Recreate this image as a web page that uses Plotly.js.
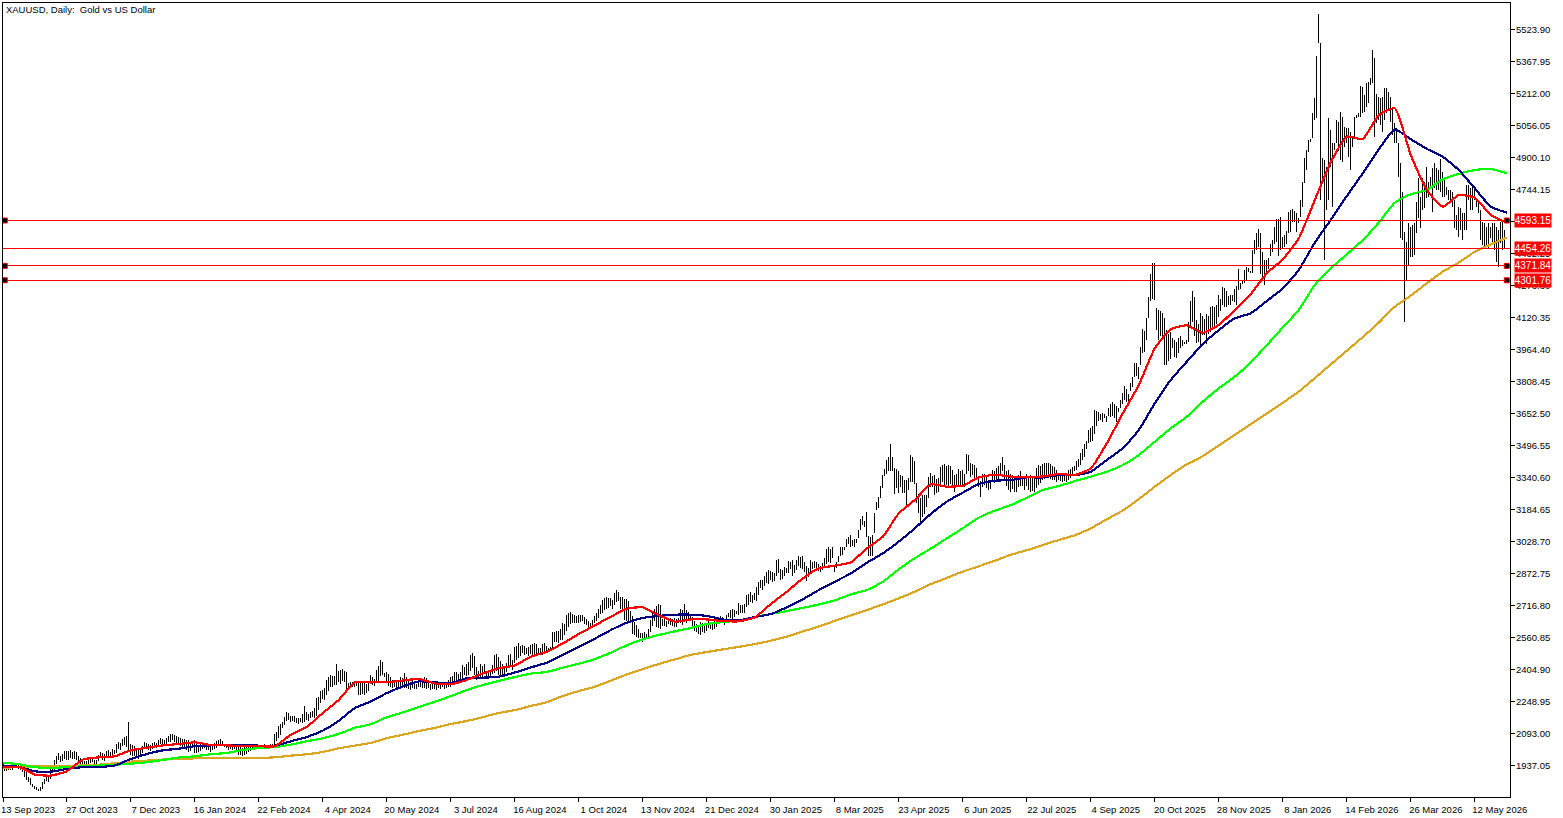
<!DOCTYPE html>
<html>
<head>
<meta charset="utf-8">
<script src="https://cdn.plot.ly/plotly-3.0.1.min.js"></script>
<style>
    html, body { margin: 0; padding: 0; background: #ffffff; overflow: hidden; }
    .scatterlayer .js-line, .barlayer path { shape-rendering: crispEdges; }
</style>
</head>
<body>
<div id="chart" style="width:1563px;height:818px;"></div>
<script>
// daily highs, 32 bars per axis label
const barHigh = [
    1933,1931,1930,1936,1930,1928,1938,1944,1947,1936,1926,1925,1904,1880,1875,1847,1835,1830,1825,1830,1858,1872,1885,1880,1926,1932,1965,1985,1997,1984,1992,2006,
    2006,2009,2013,2004,2008,2003,1985,1975,1962,1960,1958,1962,1972,1980,1962,1966,1990,2002,1996,1992,2008,2012,2004,2018,2014,2040,2050,2048,2068,2078,2080,2148,
    2042,2035,2030,2022,2012,2020,2034,2050,2048,2040,2036,2045,2052,2048,2062,2072,2066,2062,2070,2082,2089,2092,2086,2080,2076,2073,2068,2065,2060,2060,2048,2058,
    2063,2048,2039,2050,2047,2045,2040,2044,2036,2037,2049,2055,2063,2068,2055,2039,2041,2039,2036,2036,2044,2040,2030,2025,2020,2028,2032,2025,2030,2036,2039,2033,
    2039,2036,2038,2040,2038,2037,2040,2042,2091,2100,2128,2140,2150,2175,2196,2192,2180,2176,2178,2170,2170,2170,2190,2228,2200,2190,2196,2205,2215,2265,2270,2298,
    2305,2313,2355,2370,2380,2371,2375,2432,2400,2403,2407,2400,2395,2340,2345,2344,2345,2346,2338,2340,2342,2338,2335,2340,2380,2370,2360,2403,2420,2452,2440,2390,
    2392,2385,2370,2355,2350,2354,2345,2370,2362,2386,2370,2350,2345,2354,2340,2335,2345,2352,2340,2370,2365,2340,2332,2338,2335,2340,2330,2335,2338,2330,2345,2352,
    2367,2375,2394,2392,2385,2395,2427,2418,2432,2443,2478,2484,2470,2415,2400,2432,2420,2430,2395,2395,2400,2425,2475,2479,2465,2445,2430,2420,2437,2475,2479,2450,
    2516,2520,2532,2520,2525,2518,2512,2516,2522,2528,2532,2530,2510,2512,2528,2532,2518,2512,2516,2590,2589,2592,2595,2600,2630,2628,2670,2680,2687,2675,2670,2665,
    2670,2672,2670,2660,2650,2640,2630,2645,2665,2680,2700,2720,2745,2755,2760,2755,2752,2745,2780,2792,2785,2760,2758,2750,2750,2740,2690,2665,2636,2620,2600,2585,
    2585,2590,2580,2600,2645,2680,2700,2715,2724,2720,2650,2660,2640,2650,2655,2650,2655,2650,2655,2700,2695,2724,2695,2685,2670,2660,2640,2625,2620,2635,2630,2620,
    2625,2640,2635,2625,2640,2650,2660,2664,2662,2646,2670,2680,2695,2700,2695,2690,2727,2720,2720,2722,2768,2775,2785,2768,2780,2809,2830,2841,2841,2860,2882,2890,
    2885,2880,2875,2940,2942,2895,2890,2905,2900,2935,2930,2940,2912,2938,2958,2952,2960,2930,2910,2900,2940,2930,2932,2930,2920,2910,2925,2950,2990,3000,2990,3003,
    2914,2930,2960,3003,3000,3003,3040,3052,3060,3035,3040,3040,3085,3140,3155,3130,3174,3055,3050,3060,3170,3220,3247,3300,3353,3380,3426,3440,3504,3440,3385,3380,
    3373,3354,3350,3330,3329,3340,3450,3439,3420,3312,3260,3240,3255,3255,3255,3345,3364,3350,3352,3335,3340,3390,3400,3406,3395,3400,3395,3378,3352,3360,3380,3370,
    3375,3360,3455,3450,3410,3405,3400,3385,3350,3325,3360,3360,3345,3330,3327,3375,3372,3385,3395,3410,3442,3400,3370,3375,3360,3355,3345,3350,3355,3370,3340,3350,
    3360,3345,3355,3345,3340,3385,3400,3395,3405,3410,3412,3410,3405,3395,3390,3375,3361,3360,3358,3360,3361,3375,3380,3392,3398,3420,3430,3458,3480,3505,3520,3572,
    3580,3590,3670,3665,3660,3650,3655,3650,3640,3680,3700,3707,3700,3690,3680,3720,3751,3788,3770,3750,3800,3832,3897,3900,3880,3978,4063,4055,4116,4222,4330,4384,
    4384,4165,4155,4150,4140,4120,4060,4040,4050,4020,4010,4000,4020,4030,4010,4000,3990,4100,4200,4251,4220,4110,4090,4140,4130,4115,4135,4130,4170,4175,4170,4180,
    4230,4210,4270,4262,4250,4225,4230,4228,4260,4275,4355,4290,4300,4350,4368,4360,4345,4450,4500,4530,4550,4530,4440,4400,4400,4410,4480,4500,4560,4600,4600,4610,
    4514,4520,4540,4636,4644,4650,4640,4628,4604,4693,4782,4896,4937,4985,4989,5115,5188,5395,5599,5457,4896,4888,4855,5091,5034,4969,4969,5083,5075,5123,5099,5050,
    5042,5042,5026,4993,5099,5107,5115,5248,5242,5205,5262,5270,5286,5424,5383,5208,5197,5188,5197,5237,5237,5221,5197,5140,5066,5042,4969,4872,4734,4538,4490,4579,
    4563,4571,4579,4685,4799,4709,4799,4782,4855,4782,4807,4847,4872,4847,4839,4891,4831,4807,4758,4742,4742,4734,4693,4620,4660,4652,4628,4628,4766,4766,4750,4758,
    4758,4693,4677,4644,4587,4579,4563,4579,4563,4579,4579,4563,4547,4587,4587,4547
];
// daily lows
const barLow = [
    1906,1908,1912,1914,1913,1915,1925,1926,1920,1915,1905,1880,1866,1858,1840,1830,1823,1816,1812,1815,1825,1845,1860,1855,1870,1905,1908,1945,1962,1955,1960,1970,
    1965,1966,1972,1968,1970,1962,1945,1940,1936,1934,1932,1938,1950,1955,1938,1940,1960,1975,1965,1960,1975,1985,1980,1990,1992,1998,2018,2015,2030,2035,2025,2014,
    1990,1985,1982,1975,1969,1985,1998,2016,2018,2012,2010,2016,2028,2024,2026,2040,2030,2036,2044,2050,2052,2060,2054,2046,2040,2034,2028,2020,2015,2004,2008,2024,
    2000,1998,2005,2010,2016,2022,2015,2012,2005,2012,2018,2022,2030,2032,2030,2025,2022,2015,2016,2014,2016,2012,1990,1990,1985,1990,1995,2005,2008,2012,2014,2016,
    2022,2025,2028,2030,2028,2030,2033,2030,2030,2055,2070,2085,2120,2135,2155,2160,2150,2155,2150,2145,2140,2148,2145,2150,2160,2155,2170,2175,2170,2180,2210,2240,
    2260,2255,2282,2300,2318,2322,2328,2330,2345,2335,2350,2345,2310,2306,2315,2320,2322,2325,2282,2280,2285,2282,2290,2300,2335,2330,2325,2350,2350,2375,2380,2370,
    2345,2325,2318,2315,2320,2313,2308,2318,2325,2313,2315,2310,2305,2315,2308,2312,2320,2318,2315,2313,2310,2315,2303,2308,2312,2305,2315,2310,2318,2308,2316,2322,
    2322,2330,2330,2335,2340,2360,2365,2378,2375,2380,2400,2410,2380,2354,2360,2362,2360,2385,2360,2358,2362,2385,2390,2400,2380,2378,2380,2376,2395,2415,2420,2403,
    2435,2450,2460,2470,2485,2475,2480,2470,2480,2475,2480,2470,2475,2480,2475,2492,2490,2495,2505,2510,2540,2540,2535,2550,2550,2575,2595,2610,2625,2630,2630,2633,
    2630,2635,2640,2625,2620,2610,2605,2620,2630,2640,2655,2675,2680,2695,2700,2705,2712,2700,2720,2735,2740,2700,2695,2645,2640,2630,2630,2580,2575,2565,2560,2557,
    2541,2548,2560,2565,2590,2615,2640,2610,2605,2600,2615,2615,2610,2625,2620,2615,2612,2612,2630,2630,2620,2640,2630,2640,2640,2600,2594,2590,2580,2575,2590,2585,
    2595,2605,2600,2596,2600,2610,2630,2640,2630,2620,2640,2660,2655,2650,2660,2675,2670,2680,2682,2680,2710,2720,2735,2730,2742,2740,2768,2800,2790,2810,2825,2820,
    2840,2830,2835,2860,2875,2840,2845,2860,2876,2875,2895,2860,2875,2890,2910,2900,2895,2880,2835,2855,2880,2895,2900,2890,2885,2880,2890,2905,2920,2930,2925,2950,
    2880,2900,2930,2958,2965,2985,3000,3015,3000,3005,3000,3020,3045,3085,3110,3100,3052,2958,2960,2958,3070,3180,3190,3240,3290,3350,3360,3370,3370,3370,3262,3290,
    3263,3296,3265,3265,3206,3280,3320,3320,3310,3215,3166,3125,3150,3165,3195,3240,3295,3295,3255,3264,3272,3300,3320,3296,3305,3290,3310,3303,3270,3300,3295,3305,
    3300,3295,3360,3370,3345,3352,3340,3335,3295,3247,3295,3303,3290,3280,3283,3320,3315,3335,3320,3350,3370,3330,3300,3280,3272,3285,3270,3271,3292,3300,3300,3280,
    3300,3280,3271,3275,3271,3290,3304,3315,3328,3335,3345,3340,3335,3330,3328,3320,3328,3322,3320,3325,3320,3330,3340,3352,3370,3375,3390,3400,3425,3440,3480,3510,
    3515,3520,3555,3590,3615,3620,3612,3630,3610,3640,3637,3640,3630,3610,3660,3680,3700,3720,3710,3710,3760,3780,3830,3835,3820,3890,3945,3950,4010,4120,4200,4210,
    4205,4060,4010,4030,4010,3890,3890,3910,3920,3970,3930,3925,3945,3970,3980,3990,4010,4000,4075,4100,4030,3995,4000,3985,4035,4035,3990,4040,4050,4075,4075,4090,
    4125,4150,4180,4170,4170,4180,4180,4200,4195,4180,4255,4258,4285,4290,4305,4340,4335,4335,4430,4450,4465,4330,4300,4280,4330,4355,4420,4440,4480,4490,4420,4450,
    4457,4465,4480,4531,4539,4585,4587,4539,4579,4612,4660,4774,4839,4925,4977,4993,5083,5091,5457,4693,4790,4400,4644,4693,4855,4660,4937,4969,4930,4888,4880,4953,
    4969,4904,4839,4953,5001,5091,5099,5099,5115,5123,5148,5164,5253,5262,5002,5067,5083,5058,5026,5083,5115,5132,5075,5010,4969,4969,4807,4506,4498,4100,4303,4376,
    4417,4417,4425,4531,4604,4555,4644,4652,4701,4709,4750,4636,4750,4742,4742,4734,4709,4709,4717,4693,4677,4660,4555,4547,4514,4547,4498,4547,4547,4693,4644,4644,
    4693,4660,4628,4498,4474,4465,4474,4457,4506,4490,4449,4392,4368,4482,4449,4457
];

// moving averages, read every 8th bar
const maRed = [
    1929,1930,1893,1888,1909,1966,1977,1982,2011,2024,2035,2042,2050,2037,2035,2031,2031,2031,2087,2125,2193,2257,2342,2342,2343,2351,
    2359,2337,2333,2354,2386,2411,2425,2467,2492,2532,2578,2620,2662,2701,2708,2670,2638,2649,2649,2641,2640,2659,2724,2784,
    2849,2898,2911,2927,2995,3052,3166,3231,3307,3296,3301,3341,3354,3345,3341,3346,3358,3353,3385,3507,
    3653,3791,3970,4063,4082,4046,4084,4157,4235,4336,4404,4506,
    4693,4877,5002,4990,5107,5140,4912,4742,4660,4717,4704,4620,4582
];
const maNavy = [
    1937,1930,1909,1907,1920,1929,1930,1937,1969,1993,2011,2019,2031,2035,2037,2037,2034,2034,2055,2076,2107,2155,2217,2249,2290,2322,
    2347,2342,2339,2362,2365,2370,2390,2415,2438,2476,2516,2555,2597,2633,2656,2666,2672,2672,2666,2649,2644,2661,2675,2708,
    2747,2792,2833,2873,2925,2971,3028,3093,3163,3223,3267,3309,3325,3328,3341,3341,3353,3351,3369,3426,
    3483,3572,3702,3816,3905,3991,4059,4116,4141,4201,4262,4352,
    4485,4596,4712,4823,4940,5037,4989,4942,4904,4839,4750,4660,4631
];
const maLime = [
    1951,1943,1929,1925,1929,1933,1937,1941,1946,1953,1964,1976,1982,1992,1998,2013,2022,2027,2039,2055,2070,2091,2121,2138,2172,2196,
    2222,2248,2275,2305,2329,2349,2368,2385,2393,2414,2433,2456,2487,2523,2552,2573,2591,2607,2627,2636,2644,2661,2675,2690,
    2705,2722,2742,2771,2792,2833,2893,2947,2994,3044,3093,3145,3179,3206,3242,3280,3299,3323,3345,3369,
    3401,3450,3515,3580,3637,3710,3775,3832,3902,3986,4072,4157,
    4279,4360,4428,4498,4583,4680,4721,4742,4794,4820,4839,4844,4823
];
const maOrange = [
    1925,1930,1932,1932,1935,1937,1941,1948,1956,1961,1966,1969,1972,1972,1974,1974,1974,1977,1985,1992,2003,2021,2034,2047,2070,2087,
    2105,2120,2139,2154,2173,2193,2207,2227,2246,2276,2300,2321,2350,2381,2407,2432,2454,2476,2490,2503,2515,2529,2545,2565,
    2590,2615,2642,2668,2695,2722,2752,2784,2821,2851,2882,2908,2935,2964,2986,3012,3036,3059,3093,3137,
    3180,3235,3296,3353,3405,3445,3496,3548,3600,3653,3705,3759,
    3825,3892,3958,4025,4095,4173,4227,4287,4344,4388,4441,4477,4509
];

const dateLabels = ['13 Sep 2023','27 Oct 2023','7 Dec 2023','16 Jan 2024','22 Feb 2024','4 Apr 2024','20 May 2024','3 Jul 2024',
    '16 Aug 2024','1 Oct 2024','13 Nov 2024','21 Dec 2024','30 Jan 2025','8 Mar 2025','23 Apr 2025','6 Jun 2025',
    '22 Jul 2025','4 Sep 2025','20 Oct 2025','28 Nov 2025','8 Jan 2026','14 Feb 2026','26 Mar 2026','12 May 2026'];
const priceTicks = ['5523.90','5367.95','5212.00','5056.05','4900.10','4744.15','4588.20','4432.25','4276.30','4120.35','3964.40','3808.45',
    '3652.50','3496.55','3340.60','3184.65','3028.70','2872.75','2716.80','2560.85','2404.90','2248.95','2093.00','1937.05'];
const levels = [4593.15, 4454.26, 4371.84, 4301.76];
const anchoredLevels = [4593.15, 4371.84, 4301.76];
const bidPrice = 4459;

const fontName = '"Liberation Sans", Arial, sans-serif';
const barIndex = barHigh.map((v, i) => i);
const maIndex = maRed.map((v, i) => i * 8);
const edge = [0.1, 753.6];

function maTrace(values, color) {
    return { x: maIndex, y: values, type: 'scatter', mode: 'lines',
             line: { color: color, width: 2.2, shape: 'spline', smoothing: 0.5 }, hoverinfo: 'skip' };
}
function levelTrace(value, color) {
    return { x: edge, y: [value, value], type: 'scatter', mode: 'lines', line: { color: color, width: 1 }, hoverinfo: 'skip' };
}

const traces = [
    // the tiny alpha makes plotly round the bar edges instead of widening them
    { x: barIndex, base: barLow, y: barHigh.map((v, i) => v - barLow[i]), type: 'bar', width: 0.5,
      marker: { color: 'rgba(0,0,0,0.99)', line: { width: 0 } }, hoverinfo: 'skip' },
    maTrace(maOrange, '#daa520'),
    maTrace(maLime, '#00ff00'),
    maTrace(maNavy, '#000080'),
    maTrace(maRed, '#ff0000'),
    levelTrace(bidPrice, '#c0c0c0')
].concat(levels.map(v => levelTrace(v, '#ff0000')));

// little anchor squares on both ends of the levels
traces.push({
    x: anchoredLevels.flatMap(() => [1, 752]),
    y: anchoredLevels.flatMap(v => [v, v]),
    type: 'scatter', mode: 'markers', hoverinfo: 'skip',
    marker: { symbol: 'square', size: 5, color: '#000000', line: { color: '#ff0000', width: 1 } }
});

const layout = {
    width: 1563,
    height: 818,
    paper_bgcolor: '#ffffff',
    plot_bgcolor: '#ffffff',
    margin: { l: 3, r: 53, t: 3, b: 21, pad: 0 },
    showlegend: false,
    font: { family: fontName, size: 9.5, color: '#000000' },
    title: { text: 'XAUUSD, Daily:\u00a0 Gold vs US Dollar', xref: 'container', yref: 'container', x: 0.0038, y: 0.988,
             xanchor: 'left', yanchor: 'middle', font: { family: fontName, size: 9.5, color: '#000000' } },
    xaxis: {
        range: edge, showgrid: false, zeroline: false, showline: true, linecolor: '#000000', linewidth: 1, mirror: true,
        ticks: 'outside', ticklen: 4, tickcolor: '#000000', tickwidth: 1,
        tickmode: 'array', tickvals: dateLabels.map((d, i) => Math.max(i * 32, edge[0])), ticktext: dateLabels,
        ticklabelshift: 25, ticklabeloverflow: 'allow', tickangle: 0, tickfont: { family: fontName, size: 9.5, color: '#000000' }
    },
    yaxis: {
        side: 'right', range: [1783.6, 5653.0], showgrid: false, zeroline: false, showline: true, linecolor: '#000000', linewidth: 1, mirror: true,
        ticks: 'outside', ticklen: 4, tickcolor: '#000000', tickwidth: 1, ticklabelstandoff: -1,
        tickmode: 'array', tickvals: priceTicks.map(Number), ticktext: priceTicks,
        tickfont: { family: fontName, size: 9.5, color: '#000000' }
    },
    annotations: levels.map(v => ({
        xref: 'paper', yref: 'y', x: 1.00265, y: v, xanchor: 'left', yanchor: 'middle',
        text: v.toFixed(2), showarrow: false, width: 36, height: 13, align: 'center', bgcolor: '#ff0000', borderpad: 0,
        font: { family: fontName, size: 10, color: '#ffffff' }
    }))
};

Plotly.newPlot('chart', traces, layout, { displayModeBar: false, responsive: false });
</script>
</body>
</html>
